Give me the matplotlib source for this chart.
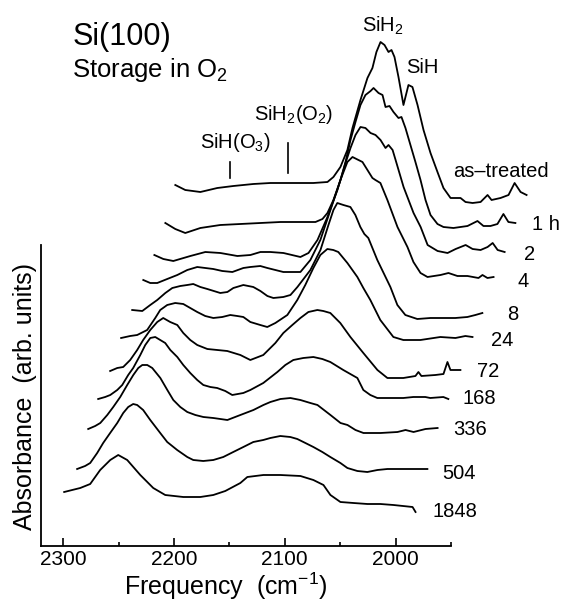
import matplotlib
matplotlib.use('Agg')
import matplotlib.pyplot as plt
import numpy as np

plt.rcParams['font.family'] = ['Liberation Sans', 'DejaVu Sans']
plt.rcParams['mathtext.fontset'] = 'custom'
plt.rcParams['mathtext.rm'] = 'Liberation Sans'
plt.rcParams['mathtext.it'] = 'Liberation Sans:italic'
plt.rcParams['mathtext.bf'] = 'Liberation Sans:bold'

# ---------------- data ----------------
time_labels = ['as-treated', '1 h', '2', '4', '8', '24', '72', '168', '336', '504', '1848']
# horizontal waterfall shift of each spectrum (cm-1) and vertical offset (arb. units)
shift_cm = [100, 90, 80, 70, 60, 50, 40, 30, 20, 10, 0]
offset = [351, 323, 294, 269, 233, 208, 176, 148, 117, 77, 39]

f_astreated = [2298.8, 2289.8, 2276.2, 2260.9, 2246.4, 2228.4, 2213.0, 2201.3, 2185.9, 2174.2, 2161.5,
               2156.1, 2149.8, 2143.5, 2138.9, 2131.7, 2125.4, 2120.9, 2117.3, 2113.6, 2110.0, 2106.4,
               2103.7, 2101.0, 2097.4, 2092.9, 2088.4, 2084.8, 2080.2, 2074.8, 2068.5, 2062.2, 2056.8,
               2050.4, 2041.4, 2036.9, 2030.5, 2023.3, 2017.0, 2013.4, 2005.3, 1998.1, 1992.6, 1987.2, 1981.8]
a_astreated = [10, 5, 3, 7, 9, 11, 12, 12, 12, 12, 13,
               18, 28, 45, 67, 95, 117, 127, 143, 153, 150, 143,
               145, 138, 118, 90, 110, 108, 90, 65, 42, 23, 7,
               -3, -3, -7, -8, -7, 0, -5, -3, 0, 12, 3, 0]

f_1h = [2297.8, 2288.8, 2279.8, 2266.2, 2248.2, 2230.1, 2212.0, 2193.9, 2175.9, 2162.3, 2156.0,
        2151.5, 2146.1, 2139.7, 2135.2, 2130.7, 2126.2, 2121.7, 2117.2, 2112.6, 2109.9, 2105.4,
        2101.8, 2099.1, 2095.5, 2091.9, 2087.4, 2084.7, 2081.1, 2076.6, 2072.1, 2067.5, 2063.0,
        2058.5, 2052.2, 2046.8, 2037.8, 2025.1, 2016.1, 2010.7, 2004.4, 1998.1, 1992.7, 1988.2, 1981.9]
a_1h = [0, -6, -10, -5, -2, -1, 0, 1, 1, 1, 4,
        10, 23, 43, 61, 83, 101, 118, 128, 132, 135, 130,
        128, 116, 117, 111, 105, 106, 95, 78, 61, 43, 23,
        8, -1, -4, -5, -3, 2, -3, -3, -1, 9, 1, 0]

f_2h = [2297.7, 2289.6, 2280.6, 2265.2, 2251.7, 2238.1, 2222.8, 2211.0, 2202.0, 2193.0, 2181.2,
        2165.9, 2158.6, 2150.5, 2141.5, 2132.5, 2125.2, 2120.7, 2116.2, 2111.7, 2107.2, 2102.6,
        2098.1, 2093.6, 2089.1, 2086.4, 2082.7, 2080.0, 2072.8, 2063.8, 2057.4, 2051.1, 2042.1,
        2033.1, 2025.8, 2016.8, 2010.5, 2003.3, 1997.0, 1992.4, 1987.9, 1981.6]
a_2h = [-3, -7, -9, -4, 0, -1, -4, -3, 0, 0, -1,
        -5, -1, 12, 35, 62, 89, 104, 117, 125, 124, 119,
        117, 112, 104, 107, 102, 92, 65, 39, 25, 7, 1,
        -1, 3, 7, 3, 2, 5, 9, 2, 0]

f_4h = [2297.7, 2291.4, 2285.1, 2276.1, 2267.0, 2258.0, 2249.0, 2241.7, 2234.5, 2226.4, 2217.3,
        2207.4, 2201.1, 2192.1, 2185.7, 2171.3, 2155.9, 2146.9, 2137.9, 2128.8, 2119.8, 2113.5,
        2108.9, 2103.5, 2099.9, 2095.4, 2090.9, 2088.2, 2083.7, 2077.4, 2068.3, 2059.3, 2053.9,
        2047.5, 2041.2, 2029.5, 2022.3, 2014.2, 2005.1, 1995.2, 1991.6, 1987.1, 1981.6]
a_4h = [-3, -6, -6, -2, 2, 7, 10, 9, 8, 6, 5,
        9, 10, 11, 9, 5, 5, 17, 37, 67, 97, 115,
        120, 117, 115, 107, 99, 97, 94, 77, 50, 30, 15,
        4, 0, 2, 4, 1, 1, -1, 2, -1, 0]

f_8h = [2297.7, 2288.6, 2281.4, 2275.1, 2267.8, 2261.5, 2254.3, 2248.0, 2242.6, 2236.2, 2229.9,
        2218.2, 2211.8, 2206.4, 2197.4, 2188.4, 2182.0, 2175.7, 2170.3, 2161.3, 2154.9, 2148.6,
        2136.9, 2127.8, 2120.6, 2116.1, 2112.6, 2107.1, 2100.8, 2096.3, 2091.8, 2088.2, 2084.6,
        2076.5, 2064.7, 2058.4, 2051.2, 2040.4, 2028.6, 2019.6, 2006.1, 1995.2, 1988.0, 1981.7]
a_8h = [3, 2, 8, 13, 20, 25, 27, 28, 29, 26, 24,
        20, 21, 25, 28, 26, 22, 17, 15, 16, 18, 26,
        43, 63, 88, 103, 110, 108, 106, 98, 86, 79, 75,
        53, 26, 8, -2, -6, -5, -5, -5, -4, -2, 0]

f_24h = [2297.7, 2289.5, 2283.2, 2274.2, 2266.9, 2262.4, 2256.1, 2248.9, 2241.6, 2235.3, 2229.0,
         2221.8, 2214.5, 2206.4, 2199.2, 2192.9, 2187.4, 2181.1, 2172.1, 2165.8, 2158.5, 2147.7,
         2138.7, 2131.5, 2124.2, 2117.9, 2111.6, 2106.2, 2101.7, 2093.5, 2089.0, 2084.5, 2079.1,
         2072.8, 2063.8, 2052.0, 2043.0, 2027.6, 2009.6, 1996.0, 1987.0, 1980.6]
a_24h = [0, 2, 3, 8, 20, 28, 33, 35, 34, 30, 26,
         22, 20, 21, 23, 22, 21, 16, 13, 11, 15, 23,
         38, 53, 70, 83, 89, 88, 86, 75, 68, 61, 50,
         38, 18, 1, -2, -2, 1, 0, 2, 1]

f_72h = [2297.6, 2291.2, 2285.8, 2279.5, 2273.2, 2267.8, 2261.4, 2255.1, 2249.7, 2243.4, 2237.0,
         2231.6, 2225.3, 2219.0, 2209.9, 2200.9, 2191.9, 2180.1, 2171.1, 2159.4, 2148.5, 2141.3,
         2133.2, 2125.9, 2118.7, 2110.6, 2105.2, 2098.9, 2089.9, 2080.8, 2069.1, 2056.4, 2047.4,
         2033.0, 2022.1, 2019.4, 2016.7, 2004.1, 1996.8, 1993.2, 1990.5, 1981.5]
a_72h = [-1, 2, 3, 10, 20, 30, 40, 48, 52, 48, 45,
         37, 30, 25, 21, 20, 19, 15, 10, 15, 27, 37,
         45, 52, 58, 60, 59, 57, 47, 33, 17, 0, -8,
         -8, -6, -2, -6, -5, -4, 8, 0, 0]

f_168h = [2298.4, 2292.1, 2287.5, 2281.2, 2276.7, 2271.3, 2266.8, 2260.4, 2255.9, 2251.4, 2246.9,
          2242.4, 2237.9, 2233.3, 2227.0, 2221.6, 2215.3, 2209.0, 2203.5, 2197.2, 2191.0, 2183.7,
          2177.4, 2167.4, 2161.1, 2149.4, 2136.7, 2129.5, 2122.3, 2113.3, 2104.2, 2096.1, 2088.9,
          2077.2, 2064.5, 2059.1, 2052.8, 2046.5, 2034.8, 2023.0, 2014.0, 2003.2, 1998.7, 1986.9, 1982.4]
a_168h = [-1, 1, 3, 8, 13, 23, 30, 43, 53, 60, 61,
          58, 55, 48, 41, 33, 25, 18, 13, 11, 10, 7,
          3, 5, 8, 15, 26, 33, 38, 40, 41, 39, 36,
          28, 20, 8, 3, 0, 0, 0, 1, 1, 0, 1, -1]

f_336h = [2297.4, 2291.1, 2286.5, 2280.2, 2274.8, 2268.5, 2262.2, 2256.7, 2252.2, 2248.6, 2244.1,
          2239.6, 2232.3, 2226.0, 2220.6, 2214.3, 2208.0, 2200.7, 2193.5, 2184.5, 2171.8, 2160.1,
          2148.3, 2139.3, 2133.0, 2123.9, 2114.9, 2105.9, 2096.9, 2090.5, 2078.8, 2069.7, 2063.4,
          2056.2, 2049.0, 2033.6, 2018.3, 2011.0, 2003.8, 1993.0, 1982.1]
a_336h = [0, 3, 6, 14, 22, 32, 44, 54, 61, 64, 64,
          61, 51, 39, 29, 22, 17, 14, 12, 11, 9, 14,
          19, 24, 27, 30, 31, 29, 26, 24, 14, 6, 4,
          -1, -4, -4, -3, -1, -3, 0, 1]

f_504h = [2297.4, 2290.2, 2285.6, 2279.3, 2273.9, 2267.6, 2261.2, 2255.8, 2251.3, 2246.8, 2243.2,
          2237.8, 2231.4, 2222.4, 2216.1, 2207.1, 2198.0, 2192.6, 2183.6, 2174.5, 2165.5, 2156.5,
          2147.4, 2138.4, 2129.4, 2123.0, 2114.0, 2105.0, 2098.7, 2091.4, 2084.2, 2076.1, 2068.9,
          2059.8, 2053.5, 2044.5, 2035.5, 2026.4, 2017.4, 1999.3, 1981.3]
a_504h = [0, 3, 6, 16, 26, 36, 46, 56, 62, 65, 64,
          59, 49, 36, 27, 19, 12, 9, 8, 9, 12, 17,
          22, 27, 29, 31, 33, 32, 30, 26, 22, 17, 12,
          6, 1, -2, -3, -1, 0, 0, 0]

f_1848h = [2299.1, 2284.6, 2275.6, 2266.6, 2257.5, 2250.3, 2242.2, 2230.4, 2218.7, 2207.9, 2191.6,
           2176.2, 2164.5, 2153.7, 2140.1, 2133.8, 2119.3, 2104.0, 2085.9, 2074.2, 2065.1, 2058.8,
           2049.8, 2038.0, 2025.4, 2013.7, 2001.9, 1984.7, 1982.0]
a_1848h = [15, 19, 23, 37, 47, 52, 47, 32, 19, 12, 10,
           10, 12, 16, 24, 30, 32, 32, 31, 27, 22, 12,
           5, 4, 3, 3, 2, 0, -5]

freqs = [f_astreated, f_1h, f_2h, f_4h, f_8h, f_24h, f_72h, f_168h, f_336h, f_504h, f_1848h]
absorb = [a_astreated, a_1h, a_2h, a_4h, a_8h, a_24h, a_72h, a_168h, a_336h, a_504h, a_1848h]

major_ticks = [2300, 2200, 2100, 2000]
minor_ticks = [2250, 2150, 2050, 1950]

# label placement (pixels) relative to each curve's right end
label_gap = [0, 17, 19, 24, 25, 19, 17, 14, 16, 15, 17]
label_dy = [0, -7, -8, -10, -7, -9, -7, -5, -7, -10, -5]

# ---------------- figure ----------------
W, H = 563, 602
fig = plt.figure(figsize=(W / 100, H / 100), dpi=100)
ax = fig.add_axes([41 / W, (H - 546) / H, 410 / W, 546 / H])
ax.set_xlim(2320, 1950)
ax.set_ylim(0, 546)
ax.patch.set_alpha(0)
for s in ['top', 'right']:
    ax.spines[s].set_visible(False)
ax.spines['left'].set_bounds(0, 301)
ax.spines['left'].set_linewidth(1.3)
ax.spines['bottom'].set_linewidth(1.3)
ax.set_xticks(major_ticks)
ax.set_xticklabels([str(t) for t in major_ticks])
ax.set_xticks(minor_ticks, minor=True)
ax.tick_params(axis='x', which='major', direction='in', length=6, width=1.2,
               labelsize=15, pad=3)
ax.tick_params(axis='x', which='minor', direction='in', length=3, width=1.2)
ax.set_yticks([])

for i, (f, a) in enumerate(zip(freqs, absorb)):
    x = np.array(f) - shift_cm[i]
    y = offset[i] + np.array(a)
    ax.plot(x, y, color='black', lw=1.3, clip_on=False, solid_joinstyle='round')
    if i > 0:
        ax.annotate(time_labels[i], xy=(x[-1], y[-1]), xytext=(label_gap[i], label_dy[i]),
                    textcoords='offset pixels', ha='left', va='baseline', fontsize=14.5,
                    annotation_clip=False)


def ptext(xp, yp, s, **kw):
    fig.text(xp / W, 1 - yp / H, s, **kw)


ptext(73, 45, 'Si(100)', fontsize=22, ha='left', va='baseline')
ptext(72, 77, 'Storage in O$_2$', fontsize=18.5, ha='left', va='baseline')
ptext(362, 32, 'SiH$_2$', fontsize=14.5, ha='left', va='baseline')
ptext(406, 73, 'SiH', fontsize=14.5, ha='left', va='baseline')
ptext(200, 148, 'SiH(O$_3$)', fontsize=14.5, ha='left', va='baseline')
ptext(254, 120, 'SiH$_2$(O$_2$)', fontsize=14.5, ha='left', va='baseline')
ptext(453, 177, 'as\u2013treated', fontsize=14.5, ha='left', va='baseline')
ptext(226, 595, 'Frequency  (cm$^{-1}$)', fontsize=18, ha='center', va='baseline')
ptext(25, 397, 'Absorbance  (arb. units)', fontsize=18, ha='center', va='center', rotation=90)

# feature marker ticks
fig.add_artist(plt.Line2D([230 / W, 230 / W], [1 - 162 / H, 1 - 178 / H], color='black', lw=1.2))
fig.add_artist(plt.Line2D([288 / W, 288 / W], [1 - 143 / H, 1 - 173 / H], color='black', lw=1.2))

fig.savefig('out.png', dpi=100)
